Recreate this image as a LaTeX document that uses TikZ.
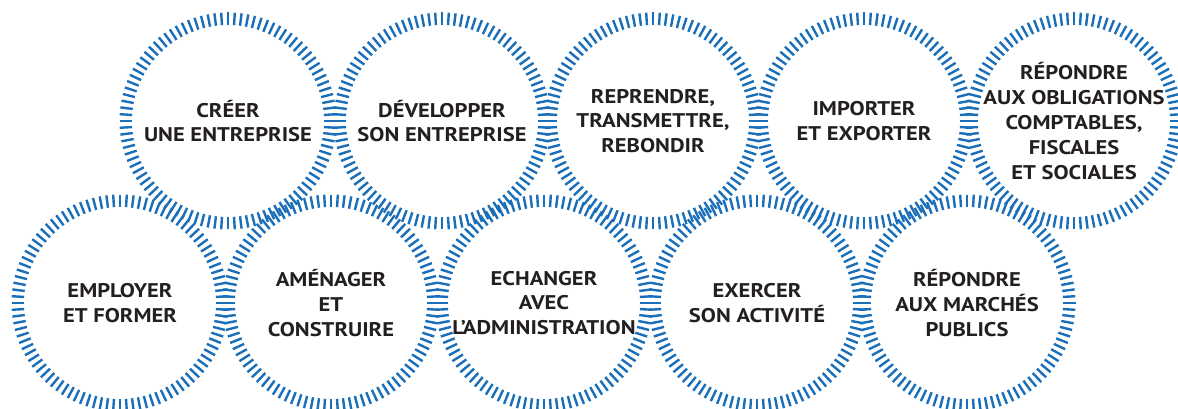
\documentclass[tikz,border=0pt]{standalone}
\usepackage{fontspec}
\setmainfont{PT Sans}[FakeStretch=1.14]
\definecolor{ringblue}{HTML}{1B6FB8}
\definecolor{txt}{HTML}{231F20}
\tikzset{
  circ/.style={circle, minimum size=190pt, inner sep=0pt, align=center,
    font=\fontsize{19.8}{24.8}\selectfont\bfseries, text=txt},
  tick/.style={draw=ringblue, line width=2.4pt}
}
\newcommand{\ringticks}[1]{%
  \foreach \a in {0,3.6,...,359} {\draw[tick] (#1.center) ++(\a:96) -- ++(\a:12.5);}%
}
\begin{document}
\begin{tikzpicture}[x=1pt,y=-1pt]
\useasboundingbox (0,0) rectangle (1178,409);
% top row
\node[circ] (creer) at (228,121) {CRÉER\\UNE ENTREPRISE};
\node[circ] (dev) at (442,121) {DÉVELOPPER\\SON ENTREPRISE};
\node[circ] (rep) at (653,121) {REPRENDRE,\\TRANSMETTRE,\\REBONDIR};
\node[circ] (imp) at (864,121) {IMPORTER\\ET EXPORTER};
\node[circ] (obl) at (1074,121) {RÉPONDRE\\AUX OBLIGATIONS\\COMPTABLES,\\FISCALES\\ET SOCIALES};
% bottom row
\node[circ] (emp) at (120,303) {EMPLOYER\\ET FORMER};
\node[circ] (ame) at (331,303) {AMÉNAGER\\ET\\CONSTRUIRE};
\node[circ] (ech) at (544,303) {ECHANGER\\AVEC\\L’ADMINISTRATION};
\node[circ] (exe) at (757,303) {EXERCER\\SON ACTIVITÉ};
\node[circ] (mar) at (967,303) {RÉPONDRE\\AUX MARCHÉS\\PUBLICS};
\foreach \n in {creer,dev,rep,imp,obl,emp,ame,ech,exe,mar} {\ringticks{\n}}
\end{tikzpicture}
\end{document}
